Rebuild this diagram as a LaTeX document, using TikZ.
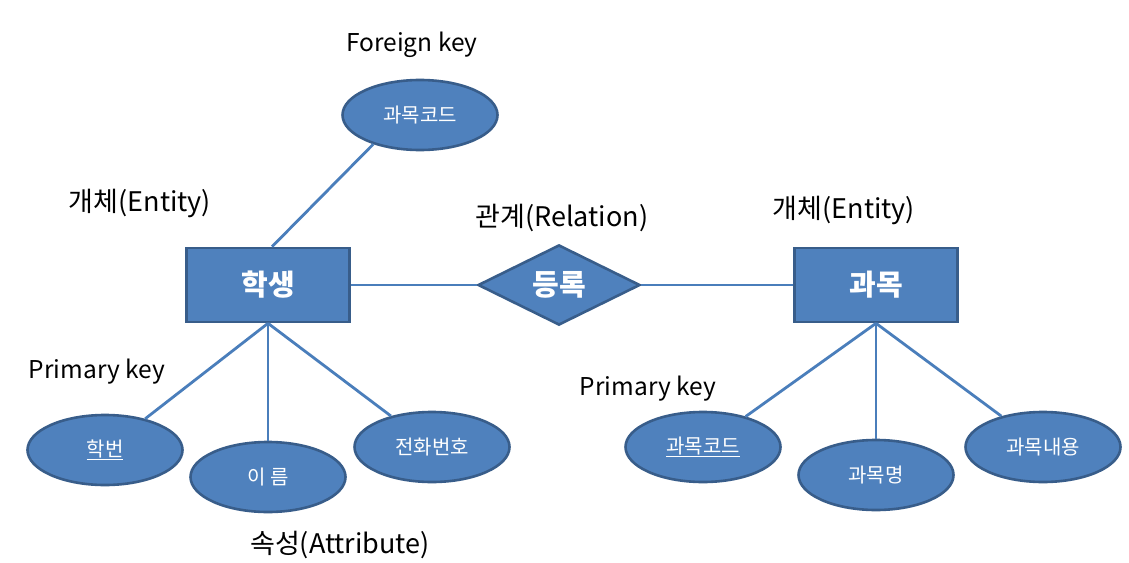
\documentclass[tikz,border=0pt]{standalone}
\usepackage{fontspec}
\setmainfont{Noto Sans CJK KR}
\usetikzlibrary{shapes.geometric}
\definecolor{erfill}{HTML}{4F81BD}
\definecolor{erborder}{HTML}{385D8A}
\definecolor{erline}{HTML}{4A7EBB}
\tikzset{
  entity/.style={rectangle, draw=erborder, fill=erfill, line width=2.6pt, minimum width=163pt, minimum height=74pt, inner sep=0pt, text=white, font=\fontsize{29}{32}\selectfont\bfseries},
  relation/.style={diamond, draw=erborder, fill=erfill, line width=2.6pt, minimum width=162pt, minimum height=72pt, inner sep=0pt, text=white, font=\fontsize{29}{32}\selectfont\bfseries},
  attr/.style={ellipse, draw=erborder, fill=erfill, line width=2.6pt, minimum width=155pt, minimum height=70pt, inner sep=0pt, text=white, font=\fontsize{20}{24}\selectfont},
  lbl/.style={text=black, inner sep=0pt},
  conn/.style={draw=erline, line width=2.8pt},
}
\begin{document}
\begin{tikzpicture}[x=1pt,y=-1pt]
\useasboundingbox[fill=white] (0,0) rectangle (1129,562);
% labels
\node[lbl, font=\fontsize{24.5}{28}\selectfont] (lfk) at (412,45) {Foreign key};
\node[lbl, font=\fontsize{27}{30}\selectfont] (lent1) at (140,203) {개체(Entity)};
\node[lbl, font=\fontsize{27}{30}\selectfont] (lrel) at (562,218) {관계(Relation)};
\node[lbl, font=\fontsize{27}{30}\selectfont] (lent2) at (844,210) {개체(Entity)};
\node[lbl, font=\fontsize{24.5}{28}\selectfont] (lpk1) at (97,372) {Primary key};
\node[lbl, font=\fontsize{24.5}{28}\selectfont] (lpk2) at (648,389) {Primary key};
\node[lbl, font=\fontsize{27}{30}\selectfont] (lattr) at (340,545) {속성(Attribute)};
% shapes
\node[attr] (fk) at (420,115) {과목코드};
\node[entity] (s) at (268,285) {학생};
\node[relation] (r) at (559,285) {등록};
\node[entity] (c) at (876,285) {과목};
\node[attr] (hb) at (105,450) {\underline{학번}};
\node[attr] (nm) at (268,477) {이 름};
\node[attr] (ph) at (432,447) {전화번호};
\node[attr] (cc) at (703,447) {\underline{과목코드}};
\node[attr] (cn) at (876,475) {과목명};
\node[attr] (cd) at (1043,447) {과목내용};
% connectors
\draw[conn] ([xshift=4pt]s.north) -- (fk.212);
\draw[conn] (s.east) -- (r.west);
\draw[conn] (r.east) -- (c.west);
\draw[conn] (s.south) -- (hb);
\draw[conn] (s.south) -- (nm);
\draw[conn] (s.south) -- (ph);
\draw[conn] (c.south) -- (cc);
\draw[conn] (c.south) -- (cn);
\draw[conn] (c.south) -- (cd);
\end{tikzpicture}
\end{document}
